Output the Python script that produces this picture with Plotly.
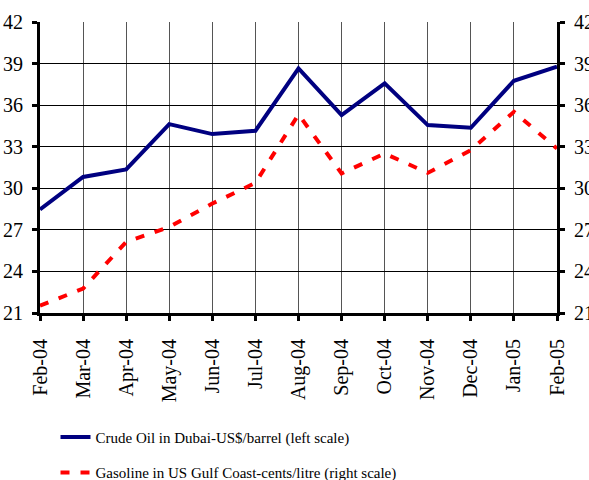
import plotly.graph_objects as go

months = ["Feb-04", "Mar-04", "Apr-04", "May-04", "Jun-04", "Jul-04", "Aug-04",
          "Sep-04", "Oct-04", "Nov-04", "Dec-04", "Jan-05", "Feb-05"]
crude_dubai = [28.47, 30.82, 31.36, 34.63, 33.91, 34.15, 38.65,
               35.28, 37.57, 34.56, 34.37, 37.76, 38.77]
gasoline_usgc = [21.53, 22.76, 26.13, 27.21, 28.9, 30.39, 35.33,
                 31.07, 32.51, 31.11, 32.75, 35.52, 32.87]
y_ticks = [21, 24, 27, 30, 33, 36, 39, 42]

FONT = "Liberation Serif"

fig = go.Figure()
fig.add_trace(go.Scatter(
    x=months, y=crude_dubai, mode="lines",
    name="Crude Oil in Dubai-US$/barrel (left scale)",
    line=dict(color="#000080", width=4),
    legendgroup="a",
))
fig.add_trace(go.Scatter(
    x=months, y=gasoline_usgc, mode="lines", yaxis="y2",
    name="Gasoline in US Gulf Coast-cents/litre (right scale)",
    line=dict(color="#ff0000", width=4, dash="9px,11px"),
    legendgroup="b",
))

axis_common = dict(
    range=[21, 42], tickvals=y_ticks, ticktext=[str(v) for v in y_ticks],
    ticks="outside", ticklen=5, tickwidth=3, tickcolor="black",
    showline=True, linecolor="black", linewidth=3, automargin=False,
    ticklabelstandoff=5,
    tickfont=dict(family=FONT, size=20, color="black"),
)

fig.update_layout(
    template="none",
    width=589, height=480,
    margin=dict(l=40, r=32, t=22, b=167, autoexpand=False),
    paper_bgcolor="white", plot_bgcolor="white",
    font=dict(family=FONT, color="black"),
    showlegend=True,
    legend=dict(
        orientation="v", x=0.03, xanchor="left", y=-0.37, yanchor="top",
        font=dict(family=FONT, size=15, color="black"),
        tracegroupgap=13, bgcolor="rgba(0,0,0,0)",
    ),
    xaxis=dict(
        type="category", range=[0, 12], automargin=False,
        tickangle=-90, ticks="outside", ticklen=5, tickwidth=3, tickcolor="black",
        showline=True, linecolor="black", linewidth=3,
        showgrid=True, gridcolor="#555555", gridwidth=1,
        ticklabelstandoff=10,
        tickfont=dict(family=FONT, size=20, color="black"),
    ),
    yaxis=dict(side="left", showgrid=True, gridcolor="black", gridwidth=1, **axis_common),
    yaxis2=dict(side="right", overlaying="y", showgrid=False, **axis_common),
)

fig.write_html("out.html", config={"displayModeBar": False},
               post_script="document.body.style.margin='0';document.body.style.overflow='hidden';")
